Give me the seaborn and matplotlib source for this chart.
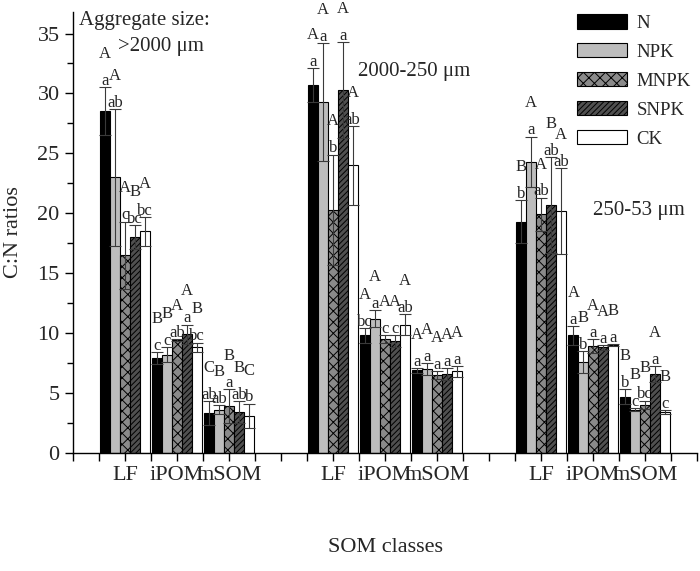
import numpy as np
import pandas as pd
import seaborn as sns
import matplotlib.pyplot as plt
from matplotlib.patches import Patch

# groups: aggregate size x SOM class, on a numeric axis with gaps
treatments = ["N", "NPK", "MNPK", "SNPK", "CK"]
classes = ["LF", "iPOM", "mSOM"]
positions = [1, 2, 3, 5, 6, 7, 9, 10, 11]
class_labels = classes * 3

# C:N ratios (order: >2000 LF,iPOM,mSOM | 2000-250 ... | 250-53 ...)
n_vals = [28.5, 7.9, 3.3, 30.7, 9.8, 6.9, 19.3, 9.8, 4.7]
npk_vals = [23.0, 8.2, 3.6, 29.3, 11.2, 7.0, 24.3, 7.6, 3.6]
mnpk_vals = [16.5, 9.4, 3.9, 20.3, 9.5, 6.5, 19.9, 8.9, 4.0]
snpk_vals = [18.0, 9.9, 3.4, 30.3, 9.3, 6.6, 20.7, 8.8, 6.6]
ck_vals = [18.5, 8.8, 3.1, 24.0, 10.7, 6.8, 20.2, 9.0, 3.4]

n_err = [2.0, 0.5, 1.0, 1.4, 0.6, 0.2, 1.8, 0.8, 0.6]
npk_err = [5.7, 0.6, 0.4, 4.9, 0.7, 0.5, 2.1, 0.9, 0.15]
mnpk_err = [2.8, 0.1, 1.4, 4.6, 0.3, 0.3, 1.4, 0.6, 0.35]
snpk_err = [1.0, 0.8, 0.9, 4.0, 0.5, 0.5, 4.0, 0.2, 0.65]
ck_err = [1.2, 0.4, 1.0, 3.3, 0.9, 0.45, 3.6, 0.1, 0.15]

# significance letters (upper case / lower case)
n_up = ["A", "B", "C", "A", "A", "A", "B", "A", "B"]
npk_up = ["A", "B", "B", "A", "A", "A", "A", "B", "B"]
mnpk_up = ["A", "A", "B", "A", "A", "A", "A", "A", "B"]
snpk_up = ["B", "A", "B", "A", "A", "A", "B", "A", "A"]
ck_up = ["A", "B", "C", "A", "A", "A", "A", "B", "B"]

n_low = ["a", "c", "ab", "a", "bc", "a", "b", "a", "b"]
npk_low = ["ab", "c", "ab", "a", "a", "a", "a", "b", "c"]
mnpk_low = ["c", "ab", "a", "b", "c", "a", "ab", "a", "bc"]
snpk_low = ["bc", "a", "ab", "a", "c", "a", "ab", "a", "a"]
ck_low = ["bc", "bc", "b", "ab", "ab", "a", "ab", "a", "c"]

vals = [n_vals, npk_vals, mnpk_vals, snpk_vals, ck_vals]
errs = [n_err, npk_err, mnpk_err, snpk_err, ck_err]
ups = [n_up, npk_up, mnpk_up, snpk_up, ck_up]
lows = [n_low, npk_low, mnpk_low, snpk_low, ck_low]

face_colors = ["#000000", "#bdbdbd", "#8a8a8a", "#505050", "#ffffff"]
hatches = ["", "", "xxx", "//////", ""]

df = pd.DataFrame({
    "pos": positions * 5,
    "trt": np.repeat(treatments, len(positions)),
    "val": sum(vals, []),
})

sns.set_style("ticks")
plt.rcParams["font.family"] = ["Liberation Serif", "DejaVu Serif"]
plt.rcParams["hatch.linewidth"] = 0.7

fig = plt.figure(figsize=(7, 5.71), dpi=100)
ax = fig.add_axes([0.104, 0.207, 0.892, 0.772])

sns.barplot(data=df, x="pos", y="val", hue="trt", hue_order=treatments,
            native_scale=True, width=0.95, palette=face_colors,
            edgecolor="black", linewidth=0.8, errorbar=None, legend=False,
            saturation=1, ax=ax)

# hatch, error bars and letters per treatment
bar_containers = list(ax.containers)
for i, cont in enumerate(bar_containers):
    bars = sorted([b for b in cont if b is not None], key=lambda b: b.get_x())
    for j, bar in enumerate(bars):
        bar.set_hatch(hatches[i])
        xc = bar.get_x() + bar.get_width() / 2
        top = vals[i][j] + errs[i][j]
        ax.errorbar(xc, vals[i][j], yerr=errs[i][j], fmt="none",
                    ecolor="#3a3a3a", elinewidth=0.8, capsize=4, capthick=0.8)
        ax.text(xc, top - 0.15, lows[i][j], ha="center", va="bottom", fontsize=12)
        ax.text(xc, top + 2.1, ups[i][j], ha="center", va="bottom", fontsize=12)

ax.set_xlim(0, 12)
ax.set_ylim(0, 36.8)
ticks = np.arange(0, 12.01, 0.5)
ax.set_xticks(ticks)
ax.set_xticklabels([class_labels[positions.index(t)] if t in positions else "" for t in ticks],
                   fontsize=16)
ax.set_yticks(np.arange(0, 36, 5))
ax.set_yticks(np.arange(0, 36, 2.5), minor=True)
ax.tick_params(axis="y", labelsize=16)
ax.tick_params(which="major", length=6, width=1, direction="out", color="black")
ax.tick_params(which="minor", length=4, width=1, direction="out", color="black")
sns.despine(ax=ax)
for s in ["left", "bottom"]:
    ax.spines[s].set_color("black")
    ax.spines[s].set_linewidth(1)

ax.set_xlabel("SOM classes", fontsize=16, labelpad=38)
ax.set_ylabel("C:N ratios", fontsize=16, labelpad=10)

# aggregate size annotations
ax.text(0.12, 36.1, "Aggregate size:", fontsize=15, va="center")
ax.text(0.86, 33.9, ">2000 \u03bcm", fontsize=15, va="center")
ax.text(5.48, 31.8, "2000-250 \u03bcm", fontsize=15, va="center")
ax.text(10.0, 20.2, "250-53 \u03bcm", fontsize=15, va="center")

handles = [Patch(facecolor=c, edgecolor="black", hatch=h, linewidth=0.8)
           for c, h in zip(face_colors, hatches)]
ax.legend(handles, treatments, loc="upper right", bbox_to_anchor=(0.99, 0.995),
          frameon=False, fontsize=13.5, handlelength=2.7, handleheight=0.8,
          labelspacing=0.6, handletextpad=0.5, borderaxespad=0, borderpad=0)

fig.savefig("out.png", dpi=100)
